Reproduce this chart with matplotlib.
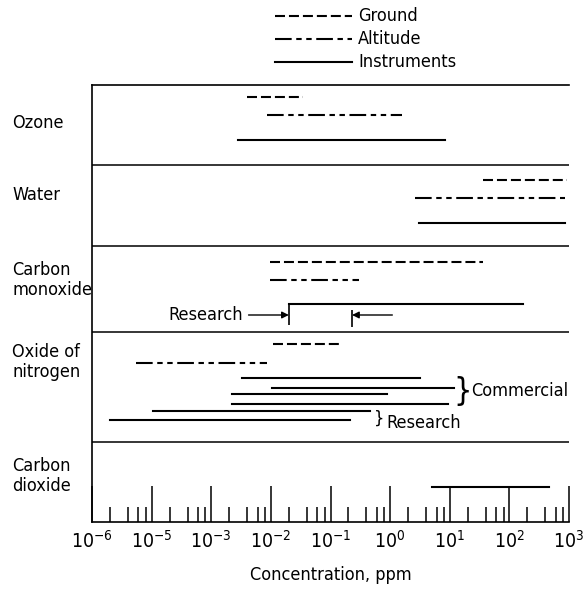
import matplotlib
matplotlib.use('Agg')
import matplotlib.pyplot as plt
from matplotlib import font_manager
from matplotlib.lines import Line2D
from matplotlib.ticker import FixedLocator, NullFormatter

# narrow lettering if a condensed face is installed
condensed = any(f.name == 'DejaVu Sans' and 'condensed' in str(f.stretch)
                for f in font_manager.fontManager.ttflist)
plt.rcParams['font.family'] = ['DejaVu Sans']
if condensed:
    plt.rcParams['font.stretch'] = 'condensed'
FS = 13 if condensed else 12
plt.rcParams['mathtext.default'] = 'regular'

# Concentration ranges (ppm), one (low, high) pair per measuring method
substances = ['Ozone', 'Water', 'Carbon\nmonoxide', 'Oxide of\nnitrogen', 'Carbon\ndioxide']
ground_ranges = [(0.004, 0.035), (36, 930), (0.0098, 36), (0.011, 0.15), None]
altitude_ranges = [(0.0087, 1.6), (2.6, 870), (0.0098, 0.30), (5.5e-5, 0.0087), None]
instrument_ranges = [
    [(0.0028, 8.4)],
    [(3.0, 870)],
    [(0.020, 170)],
    [(0.0033, 3.2), (0.0105, 12), (0.0022, 0.9), (0.0022, 9.4),
     (1.05e-4, 0.46), (2e-5, 0.21)],
    [(5, 465)],
]
co_research = (0.02, 0.23)

tick_values = [1e-5, 1e-4, 1e-3, 1e-2, 1e-1, 1e0, 1e1, 1e2, 1e3]
tick_labels = ['-6', '-5', '-3', '-2', '-1', '0', '1', '2', '3']

# layout (pixels measured down from the top of the plot frame)
section_edges = [0, 80, 161, 247, 357, 437]
label_y = [38, 110, 195, 277, 391]
ground_y = [12, 95, 177, 259, None]
altitude_y = [30, 113, 195, 278, None]
instrument_y = [[55], [138], [219], [293, 303, 309, 319, 326, 335], [402]]

GROUND = (4.8, 1.9)
ALTITUDE = (8, 2.2, 2.6, 2.2, 2.6, 2.2)
LW = 1.5

fig = plt.figure(figsize=(5.84, 5.90), dpi=100)
ax = fig.add_axes([92 / 584, 68 / 590, 477 / 584, 437 / 590])
ax.set_xscale('log')
ax.set_xlim(1e-5, 1e3)
ax.set_ylim(section_edges[-1], 0)

for y in section_edges[1:-1]:
    ax.axhline(y, color='k', lw=1.1)

for i in range(len(substances)):
    if ground_ranges[i]:
        ax.plot(ground_ranges[i], [ground_y[i]] * 2, color='k', lw=LW,
                dashes=GROUND)
    if altitude_ranges[i]:
        ax.plot(altitude_ranges[i], [altitude_y[i]] * 2, color='k', lw=LW,
                dashes=ALTITUDE)
    for (lo, hi), y in zip(instrument_ranges[i], instrument_y[i]):
        ax.plot([lo, hi], [y, y], color='k', lw=LW)
    fig.text(12 / 584, 1 - (85 + label_y[i]) / 590, substances[i],
             ha='left', va='center', fontsize=FS, linespacing=1.1)

# research range for carbon monoxide
ax.vlines(co_research[0], 218, 240, color='k', lw=1.2)
ax.vlines(co_research[1], 225, 242, color='k', lw=1.2)
ax.annotate('Research', xy=(co_research[0], 230), xytext=(-33, 0),
            textcoords='offset points', ha='right', va='center', fontsize=FS,
            arrowprops=dict(arrowstyle='-|>', color='k', lw=1,
                            shrinkA=2, shrinkB=0, mutation_scale=10))
ax.annotate('', xy=(co_research[1], 230), xytext=(29, 0),
            textcoords='offset points',
            arrowprops=dict(arrowstyle='-|>', color='k', lw=1,
                            shrinkA=0, shrinkB=0, mutation_scale=10))

# braces grouping the oxide of nitrogen instruments
nox = instrument_ranges[3]
commercial_end = max(hi for lo, hi in nox[:4])
research_end = max(hi for lo, hi in nox[4:])
ax.annotate('}', xy=(commercial_end, 307), xytext=(-1, 0),
            textcoords='offset points', ha='left', va='center', fontsize=23,
            fontweight='light')
ax.annotate('Commercial', xy=(commercial_end, 306), xytext=(12, 0),
            textcoords='offset points', ha='left', va='center', fontsize=FS)
ax.annotate('}', xy=(research_end, 334), xytext=(3, 0),
            textcoords='offset points', ha='left', va='center', fontsize=13)
ax.annotate('Research', xy=(research_end, 338), xytext=(12, 0),
            textcoords='offset points', ha='left', va='center', fontsize=FS)

ax.spines['right'].set_visible(False)
for s in ['left', 'top', 'bottom']:
    ax.spines[s].set_linewidth(1.2)
ax.set_yticks([])

ax.xaxis.set_major_locator(FixedLocator(tick_values))
ax.set_xticklabels(['$10^{' + t + '}$' for t in tick_labels], fontsize=FS + 1)
minor = [m * 10.0 ** k for k in range(-5, 3) for m in (2, 4, 6, 8)]
ax.xaxis.set_minor_locator(FixedLocator(minor))
ax.xaxis.set_minor_formatter(NullFormatter())
ax.tick_params(axis='x', which='major', direction='in', length=26, width=1.1,
               pad=6)
ax.tick_params(axis='x', which='minor', direction='in', length=11, width=1.1)
ax.set_xlabel('Concentration, ppm', fontsize=FS, labelpad=10)

# legend above the frame
legend_items = [('Ground', GROUND, 16), ('Altitude', ALTITUDE, 39),
                ('Instruments', None, 62)]
for name, dash, y in legend_items:
    ln = Line2D([275 / 584, 352 / 584], [1 - y / 590] * 2, color='k', lw=LW,
                transform=fig.transFigure)
    if dash:
        ln.set_dashes(dash)
    fig.add_artist(ln)
    fig.text(358 / 584, 1 - y / 590, name, ha='left', va='center', fontsize=FS)

plt.savefig('out.png', dpi=100)
